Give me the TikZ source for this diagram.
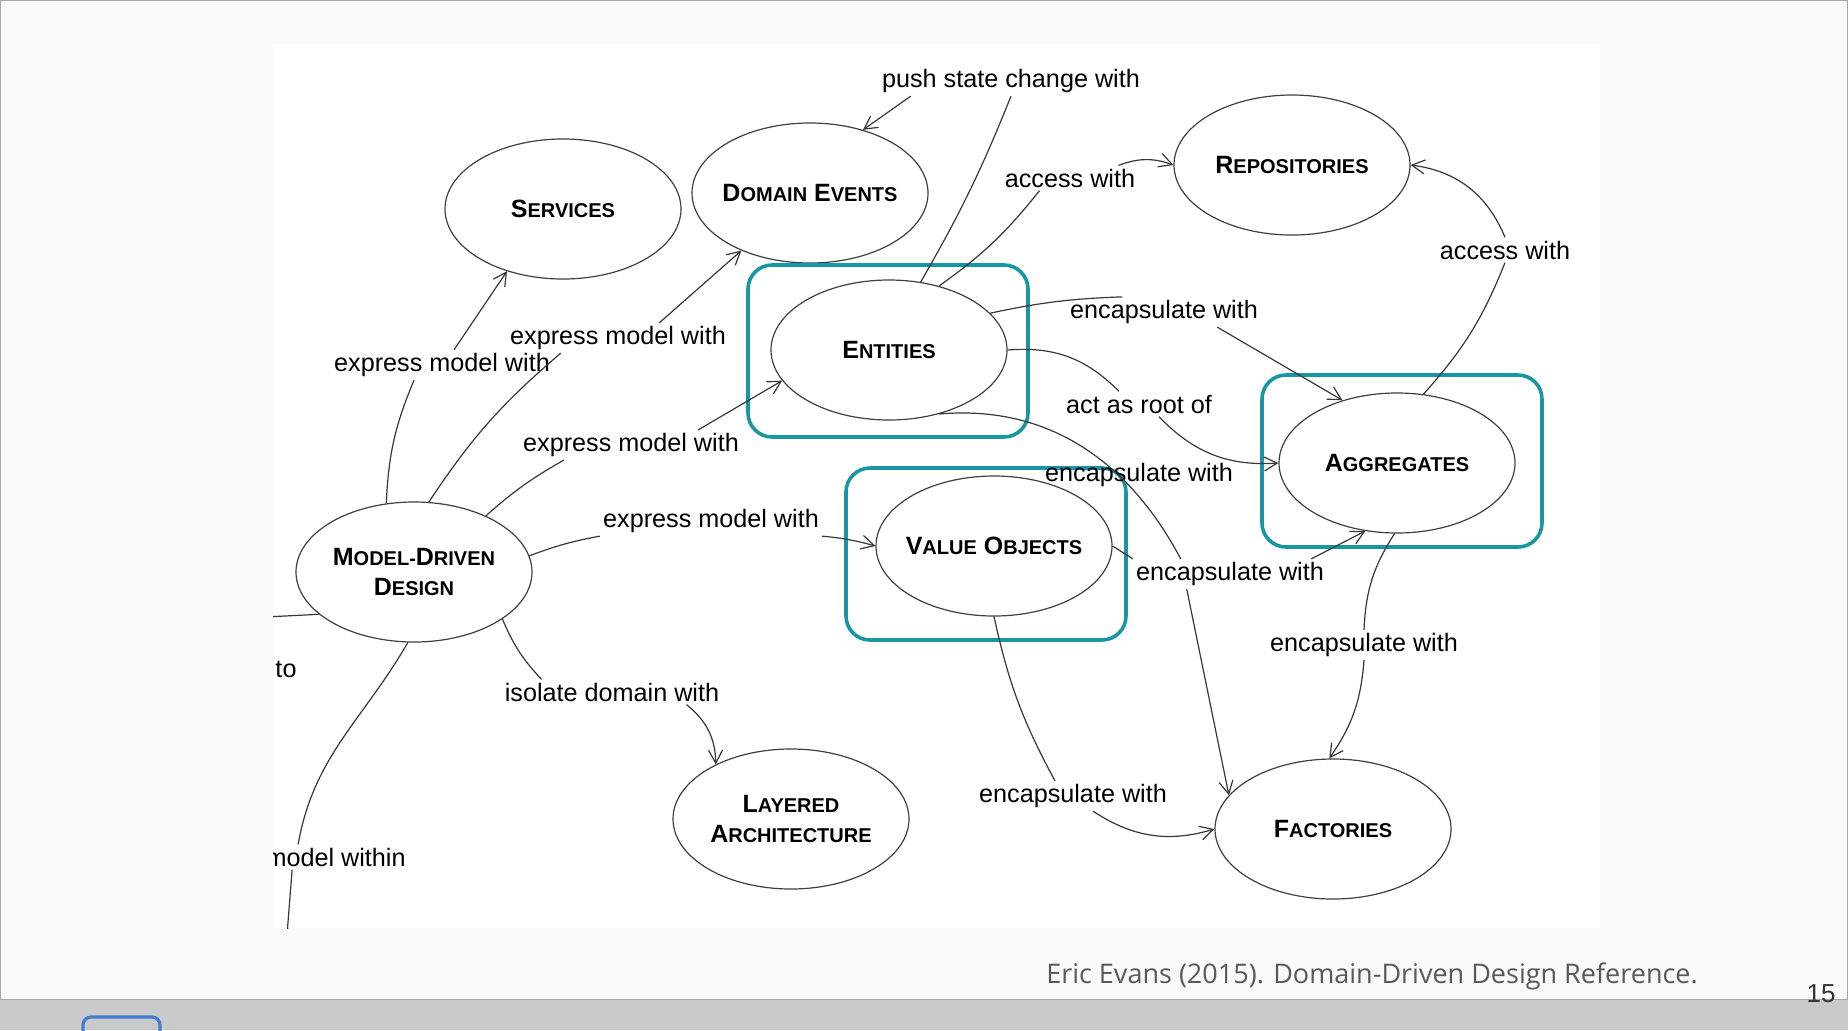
\documentclass[tikz,border=0pt]{standalone}
\usepackage{fontspec}
\setmainfont{Liberation Sans}
\newfontfamily\citefont{Open Sans}
\usetikzlibrary{shapes.geometric,arrows.meta}
\tikzset{>={Straight Barb[length=6.5pt,width=7pt]}}
\definecolor{boxteal}{RGB}{24,150,164}
\definecolor{slidebg}{RGB}{249,250,252}
\definecolor{barbg}{RGB}{201,202,204}
\definecolor{tabblue}{RGB}{66,125,210}
\tikzset{
  concept/.style={ellipse, draw=black!75, line width=0.6pt, minimum width=118pt,
    minimum height=70pt, inner xsep=-6pt, inner ysep=0pt, align=center,
    font=\bfseries\fontsize{12.5}{15}\selectfont},
  rel/.style={font=\fontsize{12.6}{14}\selectfont, inner sep=1.5pt},
  link/.style={draw=black!78, line width=0.6pt},
  hilite/.style={draw=boxteal, line width=1.8pt, rounded corners=12pt},
}
\newcommand{\capfirst}[2]{#1{\fontsize{10}{15}\selectfont #2}}

\begin{document}
\begin{tikzpicture}[x=0.5pt,y=0.5pt]
\useasboundingbox (0,0) rectangle (1848,-1030);

% slide
\fill[slidebg] (0,0) rectangle (1848,-1000);
\draw[black!35, line width=1pt] (0,0) rectangle (1848,-1000);
\fill[barbg] (0,-1000) rectangle (1848,-1030);
\draw[tabblue, line width=1.6pt, rounded corners=4pt] (83,-1045) rectangle (160,-1017);
\fill[white] (273,-44) rectangle (1600,-928);

\begin{scope}
\clip (273,-44) rectangle (1600,-928);

% concepts
\node[concept] (svc) at (563,-209) {\capfirst{S}{ERVICES}};
\node[concept] (evt) at (810,-193) {\capfirst{D}{OMAIN} \capfirst{E}{VENTS}};
\node[concept] (rep) at (1292,-165) {\capfirst{R}{EPOSITORIES}};
\node[concept] (ent) at (889,-350) {\capfirst{E}{NTITIES}};
\node[concept] (agg) at (1397,-463) {\capfirst{A}{GGREGATES}};
\node[concept] (vo) at (994,-546) {\capfirst{V}{ALUE} \capfirst{O}{BJECTS}};
\node[concept] (mdd) at (414,-572) {\capfirst{M}{ODEL-}\capfirst{D}{RIVEN}\\\capfirst{D}{ESIGN}};
\node[concept] (lay) at (791,-819) {\capfirst{L}{AYERED}\\\capfirst{A}{RCHITECTURE}};
\node[concept] (fac) at (1333,-829) {\capfirst{F}{ACTORIES}};

% highlight boxes
\draw[hilite] (748,-265) rectangle (1028,-437);
\draw[hilite] (846,-468) rectangle (1126,-640);
\draw[hilite] (1262,-375) rectangle (1542,-547);

% relation labels
\node[rel] (lpush) at (1011,-81) {push state change with};
\node[rel] (lacc) at (1070,-178) {access with};
\node[rel] (lacc2) at (1505,-250) {access with};
\node[rel] (lenc) at (1164,-312) {encapsulate with};
\node[rel] (lexp2) at (618,-338) {express model with};
\node[rel] (lexp) at (442,-365) {express model with};
\node[rel] (lroot) at (1139,-404) {act as root of};
\node[rel] (lexp3) at (631,-445) {express model with};
\node[rel] (lenc2) at (1139,-475) {encapsulate with};
\node[rel] (lexp4) at (711,-521) {express model with};
\node[rel] (lenc3) at (1230,-574) {encapsulate with};
\node[rel] (lenc4) at (1364,-645) {encapsulate with};
\node[rel] (lto) at (286,-669) {to};
\node[rel] (liso) at (612,-692) {isolate domain with};
\node[rel] (lenc5) at (1073,-796) {encapsulate with};
\node[rel, anchor=east] (lwithin) at (409,-857) {model within};

\coordinate (offl) at (265,-617);
\coordinate (offb) at (287,-935);

% model-driven design
\draw[link] (mdd.112) to[bend left=10] ([xshift=-14pt]lexp.south);
\draw[link,->] ([xshift=6pt]lexp.north) -- (svc.228);
\draw[link] (mdd.78) to[bend left=8] ([xshift=27pt]lexp2.south west);
\draw[link,->] ([xshift=-35pt]lexp2.north east) -- (evt.220);
\draw[link] (mdd.38) to[bend left=6] ([xshift=22pt]lexp3.south west);
\draw[link,->] ([xshift=-22pt]lexp3.north east) -- (ent.196);
\draw[link] (mdd.8) to[bend left=5] (lexp4.south west);
\draw[link,->] (lexp4.south east) to[bend left=5] (vo.west);
\draw[link] (mdd.-28) to[bend right=10] ([xshift=20pt]liso.north west);
\draw[link,->] ([xshift=-18pt]liso.south east) to[bend left=25] (lay.144);
\draw[link] (mdd.204) -- (offl);
\draw[link] (mdd.-95) to[out=-120,in=80] ([xshift=18pt]lwithin.north west);
\draw[link] ([xshift=15pt]lwithin.south west) -- (offb);

% entities
\draw[link] (ent.65) to[bend right=4] (lpush.south);
\draw[link,->] ([xshift=16pt]lpush.south west) -- (evt.50);
\draw[link] (ent.52) to[bend right=8] ([xshift=19pt]lacc.south west);
\draw[link,->] ([xshift=-10pt]lacc.north east) to[bend left=20] (rep.west);
\draw[link] (ent.20) to[bend left=5] (lenc.160);
\draw[link,->] ([xshift=-22pt]lenc.south east) -- (agg.131);
\draw[link] (ent.east) to[bend left=25] ([xshift=-10pt]lroot.north);
\draw[link,->] ([xshift=10pt]lroot.south) to[bend right=25] (agg.west);
\draw[link] (ent.-52) to[out=5,in=118] ([xshift=24pt]lenc3.north west);
\draw[link,->] ([xshift=27pt]lenc3.south west) -- (fac.162);

% value objects
\draw[link] (vo.east) -- (lenc3.north west);
\draw[link,->] ([xshift=-8pt]lenc3.north east) -- (agg.245);
\draw[link] (vo.south) to[bend right=8] ([xshift=-9pt]lenc5.north);
\draw[link,->] ([xshift=10pt]lenc5.south) to[bend right=25] (fac.west);

% aggregates
\draw[link] (agg.268) to[bend right=15] (lenc4.north);
\draw[link,->] (lenc4.south) to[bend left=15] (fac.93);
\draw[link] (agg.69) to[bend right=10] (lacc2.south);
\draw[link,->] (lacc2.north) to[bend right=30] (rep.east);
\end{scope}

\node[font=\citefont\fontsize{13.5}{15}\selectfont, text=black!65] (cite) at (1372,-976)
  {Eric Evans (2015). Domain-Driven Design Reference.};
\node[font=\fontsize{13}{14}\selectfont, text=black!80] (page) at (1821,-994) {15};
\end{tikzpicture}
\end{document}
